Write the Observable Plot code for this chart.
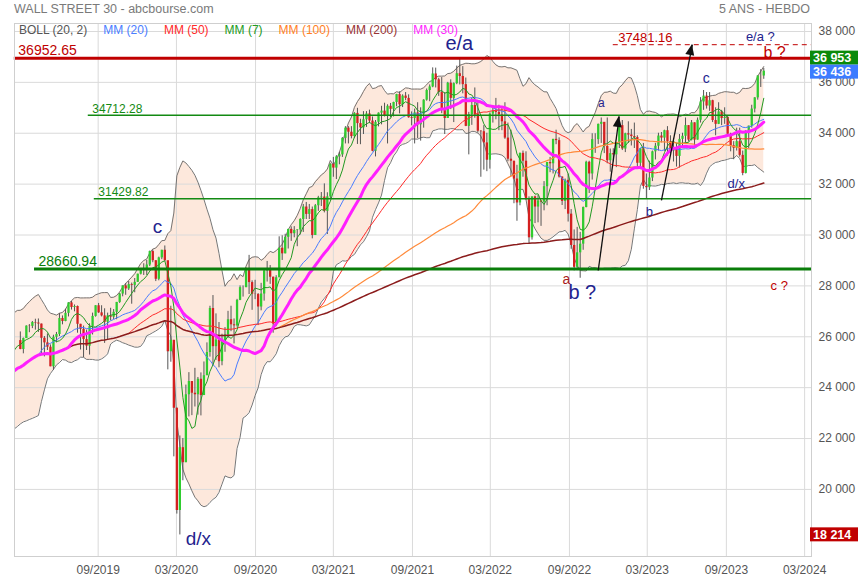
<!DOCTYPE html>
<html><head><meta charset="utf-8">
<script src="https://cdn.jsdelivr.net/npm/d3@7"></script>
<script src="https://cdn.jsdelivr.net/npm/@observablehq/plot@0.6"></script>
<style>
body{margin:0;background:#fff;font-family:"Liberation Sans",Arial,sans-serif;}
#wrap{position:relative;width:860px;height:580px;overflow:hidden;}
.hdr{position:absolute;top:0px;font-size:12.5px;color:#7a7a7a;line-height:18px;}
#legend{position:absolute;top:22px;left:19px;font-size:12px;line-height:16px;display:flex;gap:16px;white-space:nowrap;}
</style></head><body><div id="wrap"></div>
<script>
// ---------- DATA ----------
const title = "WALL STREET 30 - abcbourse.com";
const period = "5 ANS - HEBDO";
const firstWeek = "2018-12-21";            // weekly candles, one per Friday
// weekly [open, high, low, close] in hundreds of points
const ohlc = [
[241,243.5,224,224.5],[224.5,233.8,216.2,230.6],
[230.6,234.7,224.7,234.3],[234.3,240.6,233.6,240],[240,247.1,237.6,247.1],[247.1,248.6,242.6,247.4],
[247.4,252,245.3,250.6],[250.6,254.4,249,251.1],[251.1,258.8,250.5,258.8],[258.8,261.1,256.9,260.3],
[260.3,262.4,256.8,260.3],[260.3,260.9,252.1,254.5],[254.5,259.1,252.4,258.5],[258.5,261.9,254.9,255],[255,259.5,253.3,259.3],
[259.3,264.3,259.3,264.2],[264.2,264.8,261.6,264.1],[264.1,266,263.2,265.6],[265.6,266.9,262.6,265.4],
[265.4,267,261.7,265],[265,265,253.3,259.4],[259.4,260.1,252.1,257.6],[257.6,261.1,254.6,255.9],[255.9,256.8,248.2,248.2],
[248.2,260.6,246.8,259.8],[259.8,261.7,257.6,260.9],[260.9,269.1,260.1,267.2],[267.2,268.2,264.7,266],
[266,270.8,265.9,269.2],[269.2,273.4,267.8,273.3],[273.3,273.9,270.5,271.5],[271.5,272.5,269.8,271.9],
[271.9,272.1,261.4,264.9],[264.9,264.9,254.8,262.9],[262.9,264.2,251.8,258.9],[258.9,262.6,254.6,256.3],[256.3,265.1,252.8,264],
[264,269.3,260.7,268],[268,272.2,267.7,272.2],[272.2,273.1,269.2,269.4],[269.4,272.2,267.8,268.2],
[268.2,271,257.4,265.7],[265.7,269.3,258.9,268.2],[268.2,271.2,266.3,267.7],[267.7,270.7,266.8,269.6],
[269.6,273.5,266.7,273.5],[273.5,277,273.1,276.8],[276.8,280,275.7,280],[280,280.9,276.3,278.8],[278.8,281.7,278.2,280.5],
[280.5,281.1,272.8,280.2],[280.2,282.9,277.3,281.4],[281.4,284.6,281.4,284.6],[284.6,286.6,284.3,286.5],
[286.5,288.7,284.1,286.3],[286.3,290,284.1,288.2],[288.2,293.7,287.6,293.5],[293.5,294.1,289.1,289.9],[289.9,289.9,281.7,282.6],
[282.6,291.3,282,291],[291,294,290.3,294],[294,295.7,289.5,289.9],[289.9,289.6,247,254.1],
[254.1,272,250,258.6],[258.6,258.6,212.8,231.9],[231.9,232,190.3,191.7],[191.7,221,182.1,216.4],
[216.4,220,203.4,210.5],[210.5,241,210.5,237.2],[237.2,245.9,228.5,242.4],[242.4,242.4,229,237.8],
[237.8,247.6,232.4,237.2],[237.2,244,229.2,243.3],[243.3,245.8,228.9,236.9],[236.9,250.1,236.9,244.7],[244.7,257.6,244.7,253.8],
[253.8,272,252,271.1],[271.1,276.2,248.6,256.1],[256.1,269,250.7,258.7],[258.7,265.6,247.8,250.2],
[250.2,261,248.6,258.3],[258.3,263.6,253.9,260.8],[260.8,270,259.3,266.7],[266.7,272,262,264.7],[264.7,267,257.2,264.3],
[264.3,274.7,263.8,274.3],[274.3,280,274.2,279.3],[279.3,280,275.6,279.3],[279.3,287,279.3,286.5],
[286.5,292,276.6,281.3],[281.3,282,270.4,276.7],[276.7,282.2,274.6,276.6],[276.6,277,264.4,271.7],
[271.7,281,270.2,276.8],[276.8,286,274,285.9],[285.9,289.6,281.5,286.1],[286.1,288,280.6,283.4],[283.4,283.5,261.4,265],
[265,284,264,283.2],[283.2,299.3,283.2,294.8],[294.8,299.7,290,292.6],[292.6,300.3,292.6,299.1],
[299.1,302.2,294.5,302.2],[302.2,303.2,297.5,300.5],[300.5,303.3,298.9,301.8],[301.8,302.1,295.4,302],[302,306.4,300,306.1],
[306.1,312,301,311],[311,312.8,306.1,308.1],[308.1,312,306.1,310],[310,311,298.5,299.8],
[299.8,312,299.8,311.5],[311.5,315.2,309.3,314.6],[314.6,316.7,311.2,314.9],[314.9,320.1,308.7,309.3],
[309.3,316.6,300.2,315],[315,328,313.9,327.8],[327.8,330.5,322.7,326.3],[326.3,331.2,321.8,330.7],
[330.7,332.5,327.6,331.5],[331.5,338.3,330.5,338],[338,342.6,335.8,342],[342,342.6,335.8,340.4],[340.4,342.6,337.8,338.7],
[338.7,348.1,337.9,347.8],[347.8,349.8,335.6,343.8],[343.8,345.5,335.5,342.1],[342.1,348.5,339.5,345.3],
[345.3,348.5,342.3,347.6],[347.6,349.1,343.8,344.8],[344.8,346.4,332.7,332.9],[332.9,345,330.7,344.3],
[344.3,348,342.5,347.9],[347.9,350.6,343.3,348.7],[348.7,351.8,346.4,346.9],[346.9,351.2,335.8,350.6],[350.6,351.7,346.1,349.4],
[349.4,352.2,346.4,352.1],[352.1,355.3,350.4,355.2],[355.2,356.3,347.6,351.2],[351.2,355.1,350.1,354.6],
[354.6,356,352.8,353.7],[353.7,355.1,345.9,346.1],[346.1,348.4,342.9,345.8],[345.8,349.5,335.8,348],
[348,352,337.9,343.3],[343.3,350,336.9,347.5],[347.5,353.2,342,353],[353,357.4,352.6,356.8],[356.8,359,352.4,358.2],
[358.2,365.7,357.9,363.3],[363.3,365.6,357.8,361],[361,361.6,354.5,356],[356,361.9,347.7,349],
[349,356,339.5,345.8],[345.8,360,345.8,359.7],[359.7,361,349.3,353.7],[353.7,359.8,344.2,359.5],[359.5,366.4,359.1,363.4],
[363.4,369.5,359,362.3],[362.3,366.2,355.5,359.1],[359.1,361.7,342.6,342.7],[342.7,348.2,331.5,347.3],
[347.3,353.7,343.1,350.9],[350.9,357.8,345.9,347.4],[347.4,352,340.1,340.8],[340.8,341,322.7,340.6],
[340.6,343,325.5,336.2],[336.2,340,324.9,329.4],[329.4,348,325.9,347.5],[347.5,350,344,348.6],
[348.6,353.7,345.3,348.2],[348.2,351,341,347.2],[347.2,349.7,341,344.5],[344.5,352,337.6,338.1],[338.1,344,328.8,329.8],
[329.8,341.2,323,329],[329,329,312.3,322],[322,327.4,305.4,312.6],[312.6,332.2,311.5,332.1],
[332.1,333,322.7,329],[329,332.7,313.8,313.9],[313.9,315,296.5,298.9],[298.9,315,298,315],
[315,315.3,304.5,311],[311,315.5,304.8,313.4],[313.4,313.4,303.4,312.9],[312.9,321,309.5,319],[319,328.5,311.5,328.5],
[328.5,330.5,324.5,328],[328,337.6,324,337.6],[337.6,341.2,335.5,337.1],[337.1,338.2,322.4,322.8],
[322.8,322.8,311.6,313.2],[313.2,322,310,321.5],[321.5,324,305.1,308.2],[308.2,310,294.4,295.9],[295.9,302,285.9,287.3],
[287.3,303,286,293],[293,301,283,296.4],[296.4,311,294,310.8],[310.8,329,310.7,328.6],
[328.6,329,316.3,324],[324,339.8,321.6,337.5],[337.5,339.8,332.1,337.5],[337.5,343.6,335.6,343.5],
[343.5,346,336,344.3],[344.3,344,332,334.8],[334.8,346,328,329.2],[329.2,333.8,324.7,332],[332,333.9,328.8,331.5],
[331.5,336,326.5,336.3],[336.3,343,334,343],[343,345,333.2,333.8],[333.8,340,332.4,339.8],
[339.8,344.5,336,339.3],[339.3,341.5,335,338.7],[338.7,344,334,338.3],[338.3,339,326.7,328.2],
[328.2,334,325.7,333.9],[333.9,336,318,319.1],[319.1,324,314.3,318.6],[318.6,329,317.5,322.4],[322.4,333,321,332.7],
[332.7,336,329.5,334.9],[334.9,340,333,338.9],[338.9,340.3,336.2,338.1],[338.1,341.2,332.9,341],
[341,342.6,331,336.7],[336.7,339,332,333],[333,338,328.7,334.3],[334.3,336,326.7,330.9],
[330.9,339.5,326.3,337.6],[337.6,340,334.4,338.8],[338.8,346,336,343],[343,343,336.6,337.3],[337.3,345,337,344.1],
[344.1,344.1,335,337.3],[337.3,346,337.3,345.1],[345.1,354,344,352.3],[352.3,356.8,349,354.6],
[354.6,356,349.5,350.7],[350.7,356,348.6,352.8],[352.8,353,344.2,345],[345,350,339,343.5],
[343.5,352,343.4,348.4],[348.4,349,343,345.8],[345.8,350,343.5,346.2],[346.2,347,338.8,339.6],[339.6,340,332.7,335.1],
[335.1,336.7,329.6,334.1],[334.1,342,333,336.7],[336.7,342,330.6,331.3],[331.3,333,323.3,324.2],
[324.2,341,324,340.6],[340.6,342.8,334,342.8],[342.8,351,342,349.5],[349.5,354,348,353.9],
[353.9,362.6,353,362.5],[362.5,365,358,362.5],[362.5,365.5,361.2,364.4]
];
const firstShown = "2019-03-22";

// horizontal levels
const levelValues = [36952.65, 34712.28, 31429.82, 28660.94];
const levelLabels = ["36952.65", "34712.28", "31429.82", "28660.94"];
const levelStarts = ["2019-03-08", "2019-08-27", "2019-09-10", "2019-04-24"];
const targetValue = 37481.16, targetLabel = "37481.16", targetStart = "2022-12-30";

// Elliott wave labels
const waveLabels = ["c", "d/x", "e/a", "a", "b ?", "a", "b", "c", "d/x", "e/a ?", "b ?", "c ?"];
const waveDates  = ["2020-02-04","2020-05-09","2022-01-06","2022-09-12","2022-10-19","2022-12-02","2023-03-24","2023-08-03","2023-10-12","2023-12-07","2024-01-09","2024-01-20"];
const waveValues = [30335, 18071, 37520, 28252, 27741, 35170, 30925, 36153, 32025, 37803, 37175, 28016];

// arrows [fromDate, fromValue, toDate, toValue]
const arrows = [["2022-11-25", 28605, "2023-01-13", 34660], ["2023-04-21", 31357, "2023-07-02", 37481]];

// price tags on the axis
const tagValues = [36953, 36436, 18214];

// axes
const yTicks = [20000, 22000, 24000, 26000, 28000, 30000, 32000, 34000, 36000, 38000];
const xTickDates = ["2019-09-19","2020-03-19","2020-09-19","2021-03-19","2021-09-19","2022-03-19","2022-09-19","2023-03-19","2023-09-19","2024-03-19"];
const xTickLabels = ["09/2019","03/2020","09/2020","03/2021","09/2021","03/2022","09/2022","03/2023","09/2023","03/2024"];

// ---------- BUILD ----------
const P = d3.utcParse("%Y-%m-%d");
const t0 = P(firstWeek);
const rows = ohlc.map((r, i) => ({date: d3.utcDay.offset(t0, 7 * i), o: r[0] * 100, h: r[1] * 100, l: r[2] * 100, c: r[3] * 100}));
const shown = rows.filter(d => d.date >= P(firstShown));
const up = shown.filter(d => d.c >= d.o), down = shown.filter(d => d.c < d.o);

function movingAvg(n, minCount) {
  return rows.map((d, i) => {
    if (i + 1 < minCount) return null;
    const w = rows.slice(Math.max(0, i + 1 - n), i + 1);
    return {date: d.date, v: d3.mean(w, r => r.c)};
  }).filter(Boolean);
}
const boll = rows.map((d, i) => {
  const w = rows.slice(Math.max(0, i - 19), i + 1).map(r => r.c);
  const m = d3.mean(w), sd = Math.sqrt(d3.mean(w, v => (v - m) ** 2));
  return {date: d.date, up: m + 2 * sd, lo: m - 2 * sd};
}).slice(1);

const xDomain = [new Date(Date.UTC(2019, 2, 8, 10)), new Date(Date.UTC(2024, 3, 4))];
const xEnd = xDomain[1];
const tickDates = xTickDates.map(P);
const fmtLabel = new Map(tickDates.map((d, i) => [+d, xTickLabels[i]]));
const spaceFmt = v => d3.format(",")(v).replace(/,/g, " ");

const maSpecs = [
  {n: 20, min: 20, stroke: "#4a7dff", w: 1},
  {n: 50, min: 50, stroke: "#ff2a2a", w: 1},
  {n: 7, min: 7, stroke: "#239a23", w: 1},
  {n: 100, min: 100, stroke: "#ff8a3a", w: 1.2},
  {n: 200, min: 30, stroke: "#8b1c1c", w: 1.5},
  {n: 30, min: 1, stroke: "#ff1fff", w: 3}
];

const levels = levelValues.map((v, i) => ({v, label: levelLabels[i], from: P(levelStarts[i])}));
const levelStyle = [
  {stroke: "#c00000", w: 3, fill: "#c00000", size: 14, dy: -8},
  {stroke: "#138a13", w: 1.5, fill: "#138a13", size: 12, dy: -6},
  {stroke: "#138a13", w: 1.5, fill: "#138a13", size: 12, dy: -6},
  {stroke: "#0a7d0a", w: 3, fill: "#0a7d0a", size: 14, dy: -8}
];
const navy = "#23238e", dred = "#c00000";
const waveStyle = [
  {fill: navy, size: 19}, {fill: navy, size: 19}, {fill: navy, size: 20},
  {fill: "#a81c1c", size: 14}, {fill: navy, size: 20}, {fill: navy, size: 12},
  {fill: navy, size: 13}, {fill: navy, size: 14}, {fill: navy, size: 13},
  {fill: navy, size: 13}, {fill: dred, size: 16}, {fill: dred, size: 13}
];

const marks = [
  Plot.areaY(boll, {x: "date", y1: "lo", y2: "up", fill: "#fde8dc", clip: true}),
  Plot.gridY(yTicks, {stroke: "#dadada", strokeOpacity: 1}),
  Plot.gridX(tickDates, {stroke: "#dadada", strokeOpacity: 1}),
  Plot.line(boll, {x: "date", y: "up", stroke: "#666", strokeWidth: 0.9, clip: true}),
  Plot.line(boll, {x: "date", y: "lo", stroke: "#666", strokeWidth: 0.9, clip: true}),
  Plot.ruleX(shown, {x: "date", y1: "l", y2: "h", stroke: "#555", strokeWidth: 1}),
  Plot.ruleX(up, {x: "date", y1: "o", y2: "c", stroke: "#2fcc2f", strokeWidth: 2.3}),
  Plot.ruleX(down, {x: "date", y1: "o", y2: "c", stroke: "#d42020", strokeWidth: 2.3}),
  ...maSpecs.map(s => Plot.line(movingAvg(s.n, s.min), {x: "date", y: "v", stroke: s.stroke, strokeWidth: s.w, clip: true})),
  ...levels.map((d, i) => Plot.ruleY([d], {y: "v", x1: "from", x2: () => xEnd, stroke: levelStyle[i].stroke, strokeWidth: levelStyle[i].w})),
  ...levels.map((d, i) => Plot.text([d], {x: "from", y: "v", text: "label", textAnchor: "start", dx: 4, dy: levelStyle[i].dy, fill: levelStyle[i].fill, fontSize: levelStyle[i].size})),
  Plot.ruleY([targetValue], {x1: () => P(targetStart), x2: () => xEnd, stroke: "#c00000", strokeWidth: 1, strokeDasharray: "5,4"}),
  Plot.text([targetLabel], {x: () => P(targetStart), y: () => targetValue, text: d => d, textAnchor: "start", dx: 5, dy: -7, fill: "#c00000", fontSize: 13}),
  Plot.link(arrows, {x1: d => P(d[0]), y1: d => d[1], x2: d => P(d[2]), y2: d => d[3], stroke: "#111", strokeWidth: 1.3}),
  ...waveLabels.map((t, i) => Plot.text([t], {x: () => P(waveDates[i]), y: () => waveValues[i], text: d => d, fill: waveStyle[i].fill, fontSize: waveStyle[i].size})),
  Plot.frame({stroke: "#cfcfcf"}),
  Plot.axisY(yTicks, {anchor: "right", tickSize: 0, tickPadding: 7, tickFormat: spaceFmt, fill: "#555", fontSize: 12}),
  Plot.axisX(tickDates, {tickSize: 0, tickPadding: 9, tickFormat: d => fmtLabel.get(+d), fill: "#555", fontSize: 12})
];

const chart = Plot.plot({
  width: 860, height: 580,
  marginTop: 23, marginBottom: 24, marginLeft: 14, marginRight: 49,
  style: {fontFamily: "Liberation Sans, Arial, sans-serif", fontSize: "12px", background: "transparent", overflow: "visible"},
  x: {type: "utc", domain: xDomain},
  y: {domain: [17363, 38314]},
  marks
});
const wrap = document.getElementById("wrap");
wrap.appendChild(chart);

// filled arrowheads and price tags, placed through the plot's scales
const sx = chart.scale("x"), sy = chart.scale("y");
const svg = d3.select(chart);
arrows.forEach(a => {
  const x1 = sx.apply(P(a[0])), y1 = sy.apply(a[1]), x2 = sx.apply(P(a[2])), y2 = sy.apply(a[3]);
  const ang = Math.atan2(y2 - y1, x2 - x1), L = 11, W = 4.5;
  const bx = x2 - L * Math.cos(ang), by = y2 - L * Math.sin(ang);
  const px = -Math.sin(ang) * W, py = Math.cos(ang) * W;
  svg.append("polygon").attr("points", `${x2},${y2} ${bx + px},${by + py} ${bx - px},${by - py}`).attr("fill", "#111");
});
const tagColors = ["#0a8a0a", "#3d7cff", "#c00000"];
let prevBottom = -Infinity;
tagValues.forEach((v, i) => {
  let cy = sy.apply(v);
  if (cy - 7 < prevBottom) cy = prevBottom + 7;
  prevBottom = cy + 7;
  svg.append("rect").attr("x", 810).attr("y", cy - 7).attr("width", 48).attr("height", 14).attr("fill", tagColors[i]);
  svg.append("text").attr("x", 813).attr("y", cy + 4.5).attr("text-anchor", "start").attr("fill", "#fff").attr("font-weight", "bold")
     .attr("font-size", 12.5).attr("font-family", "Liberation Sans, Arial, sans-serif").text(spaceFmt(v));
});

// header and legend
const h1 = document.createElement("div"); h1.className = "hdr"; h1.style.left = "14px"; h1.textContent = title; wrap.appendChild(h1);
const h2 = document.createElement("div"); h2.className = "hdr"; h2.style.right = "50px"; h2.textContent = period; wrap.appendChild(h2);
const legendItems = [["BOLL (20, 2)", "#555"], ["MM (20)", "#4a7dff"], ["MM (50)", "#ff2a2a"], ["MM (7)", "#239a23"], ["MM (100)", "#ff7f1f"], ["MM (200)", "#993333"], ["MM (30)", "#ff1fff"]];
const lg = document.createElement("div"); lg.id = "legend";
legendItems.forEach(([t, c]) => { const s = document.createElement("span"); s.textContent = t; s.style.color = c; lg.appendChild(s); });
wrap.appendChild(lg);
</script>
</body></html>
